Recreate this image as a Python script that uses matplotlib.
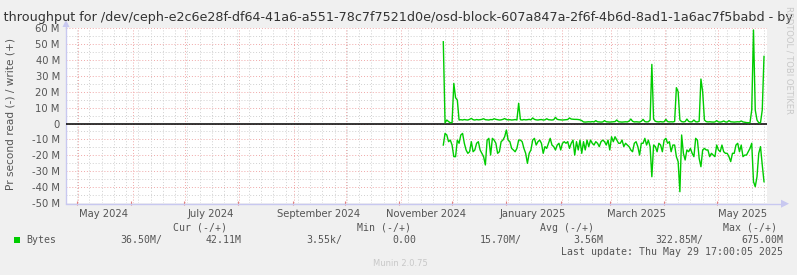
import matplotlib
matplotlib.use("Agg")
import matplotlib.pyplot as plt
import matplotlib.dates as mdates
from matplotlib.lines import Line2D
from matplotlib.patches import Polygon, Rectangle
import numpy as np
import pandas as pd

# ---------------- data ----------------
title = ("Disk throughput for /dev/ceph-e2c6e28f-df64-41a6-a551-78c7f7521d0e/"
         "osd-block-607a847a-2f6f-4b6d-8ad1-1a6ac7f5babd - by year")
ylabel = "Pr second read (-) / write (+)"
x_start = "2024-04-24 17:00"
x_end = "2025-05-29 17:00"
data_start = "2024-11-26"

# write (+) in MB/s, daily
write_mb = [51.3, 0.4, 2.2, 1.2, 0.5, 0.5, 25.2, 16.2, 14.7, 2.2,
            2.4, 2.2, 2.5, 2.3, 2.2, 2.6, 3.2, 2.4, 2.2, 2.5,
            2.3, 2.4, 2.6, 3.0, 2.4, 2.3, 2.2, 2.5, 2.4, 3.0,
            2.6, 2.4, 2.2, 2.3, 2.6, 3.1, 2.5, 2.3, 2.4, 2.2,
            2.3, 2.5, 2.2, 12.7, 2.4, 2.2, 2.5, 2.3, 2.4, 2.6,
            2.3, 3.5, 2.6, 2.3, 2.2, 2.4, 2.5, 2.2, 2.3, 3.0,
            2.4, 2.3, 2.2, 2.4, 3.9, 2.6, 2.4, 2.3, 2.2, 2.3,
            2.4, 2.5, 3.5, 2.8, 2.7, 2.6, 2.6, 2.5, 2.3, 1.8,
            1.0, 0.9, 1.0, 1.1, 1.0, 1.2, 1.0, 1.8, 1.1, 1.0,
            0.9, 1.0, 1.8, 1.1, 1.0, 0.9, 1.0, 1.1, 1.2, 2.2,
            1.1, 1.0, 0.9, 1.0, 1.1, 1.0, 1.5, 2.8, 1.4, 1.0,
            1.1, 1.0, 0.9, 1.4, 2.6, 1.2, 1.0, 1.1, 2.2, 37.1,
            2.8, 1.4, 1.1, 1.0, 1.2, 1.0, 1.1, 2.6, 1.2, 1.0,
            1.1, 1.0, 1.3, 22.5, 20.0, 2.2, 1.2, 1.0, 1.2, 2.8,
            1.3, 1.0, 1.1, 2.2, 1.1, 1.0, 1.4, 27.9, 20.0, 2.2,
            1.2, 1.0, 1.1, 1.0, 0.9, 1.0, 1.8, 1.0, 0.9, 1.1,
            1.6, 1.0, 0.9, 1.8, 1.1, 1.0, 0.9, 1.0, 1.1, 1.0,
            1.6, 1.0, 0.8, 0.6, 0.5, 0.5, 8.5, 58.7, 8.5, 2.2,
            0.5, 0.5, 8.5, 42.11]

# read (-) in MB/s, daily (plotted as negative)
read_mb = [13.5, 6.2, 7.2, 11.4, 10.4, 13.5, 20.8, 20.8, 10.4, 12.4,
           7.2, 6.2, 12.4, 16.6, 18.7, 17.7, 11.4, 17.7, 16.6, 12.4,
           11.4, 16.6, 18.7, 20.8, 26.0, 10.4, 9.3, 19.8, 9.3, 10.4,
           12.4, 18.7, 17.7, 11.4, 10.4, 8.3, 4.1, 10.4, 11.4, 15.6,
           16.6, 17.7, 15.6, 10.4, 10.4, 11.4, 15.6, 18.7, 25.0, 18.7,
           16.6, 10.4, 9.3, 13.5, 11.4, 10.4, 12.4, 18.7, 14.5, 15.6,
           12.4, 9.3, 13.5, 14.5, 16.6, 13.5, 12.4, 16.6, 12.4, 11.4,
           12.4, 11.4, 15.6, 12.4, 10.4, 19.8, 11.4, 16.6, 10.4, 18.7,
           11.4, 16.6, 10.4, 14.5, 10.4, 12.4, 13.5, 11.4, 12.4, 14.5,
           11.4, 10.4, 11.4, 13.5, 10.4, 16.6, 8.3, 11.4, 8.3, 10.4,
           12.4, 12.4, 10.4, 14.5, 12.4, 13.5, 14.5, 16.6, 17.7, 12.4,
           11.4, 14.5, 19.8, 12.4, 12.4, 9.3, 13.5, 10.4, 14.5, 33.4,
           13.5, 14.5, 17.7, 12.4, 13.5, 17.7, 10.4, 9.3, 12.4, 11.4,
           17.7, 13.5, 13.5, 20.8, 23.9, 42.8, 7.2, 18.7, 22.9, 16.6,
           17.7, 15.6, 18.7, 20.8, 9.3, 10.4, 21.9, 27.1, 16.6, 15.6,
           16.6, 16.6, 20.8, 18.7, 19.8, 20.8, 13.5, 16.6, 17.7, 13.5,
           17.7, 18.7, 18.7, 20.8, 23.9, 18.7, 18.7, 13.5, 12.4, 17.7,
           13.5, 20.8, 19.8, 19.8, 17.7, 15.6, 12.4, 36.5, 39.6, 33.4,
           18.7, 14.5, 26.0, 36.5]

y_ticks = [-50, -40, -30, -20, -10, 0, 10, 20, 30, 40, 50, 60]

legend_headers = ["Cur (-/+)", "Min (-/+)", "Avg (-/+)", "Max (-/+)"]
legend_series = "Bytes"
legend_values = ["36.50M/", "42.11M", "3.55k/", "0.00",
                 "15.70M/", "3.56M", "322.85M/", "675.00M"]
last_update = "Last update: Thu May 29 17:00:05 2025"
munin_version = "Munin 2.0.75"
rrd_credit = "RRDTOOL / TOBI OETIKER"

# ---------------- figure ----------------
W, H = 797, 275
fig = plt.figure(figsize=(W / 100, H / 100), dpi=100, facecolor="#F0F0F0")

def fx(x):
    return x / W

def fy(y):
    return 1 - y / H

ax_l, ax_r, ax_t, ax_b = 66, 767, 27.9, 203.2
ax = fig.add_axes([fx(ax_l), fy(ax_b), (ax_r - ax_l) / W, (ax_b - ax_t) / H])
ax.set_facecolor("white")

xs = pd.Timestamp(x_start)
xe = pd.Timestamp(x_end)
ax.set_xlim(xs, xe)
ax.set_ylim(-50, 60)

GREEN = "#00CC00"
MINOR_C = "#D0D0D0"
MAJOR_C = "#F0A8A8"

# grid: horizontal
for v in np.arange(-50, 61, 5):
    c = MAJOR_C if v % 10 == 0 else MINOR_C
    ax.axhline(v, color=c, lw=0.7, ls=(0, (1, 2)), zorder=1)
# grid: vertical weekly + monthly
weeks = pd.date_range(xs, xe, freq="W-WED").normalize()
months = pd.date_range(xs, xe, freq="MS")
for d in weeks:
    if d not in months:
        ax.axvline(d, color=MINOR_C, lw=0.7, ls=(0, (1, 2)), zorder=1)
for d in months:
    ax.axvline(d, color=MAJOR_C, lw=0.7, ls=(0, (1, 2)), zorder=1)

# zero line
ax.axhline(0, color="black", lw=1.1, zorder=3)

# data
dates = pd.date_range(data_start, periods=len(write_mb), freq="D")
ax.plot(dates, write_mb, color=GREEN, lw=1.0, zorder=4)
ax.plot(dates, -np.array(read_mb), color=GREEN, lw=1.0, zorder=4)

# axes styling
for s in ["top", "right"]:
    ax.spines[s].set_visible(False)
ax.spines["left"].set_color("#C8C8F0")
ax.spines["bottom"].set_visible(False)
ax.spines["left"].set_linewidth(1.0)

ax.set_yticks(y_ticks)
ax.set_yticklabels([("%d M" % v) if v != 0 else "0" for v in y_ticks])
ax.tick_params(axis="y", length=0, pad=4.5, labelsize=7.2, labelcolor="#555555")

ax.xaxis.set_major_locator(mdates.MonthLocator(bymonth=[1, 3, 5, 7, 9, 11], bymonthday=16))
ax.xaxis.set_major_formatter(mdates.DateFormatter("%B %Y"))
ax.xaxis.set_minor_locator(mdates.MonthLocator())
ax.tick_params(axis="x", which="major", length=0, pad=4.0, labelsize=7.2, labelcolor="#555555")
ax.tick_params(axis="x", which="minor", length=2.5, color="#E08080", direction="inout", width=0.8)

# bottom axis line with arrow (extends past the plot)
fig.add_artist(Line2D([fx(ax_l), fx(784)], [fy(ax_b + 0.5), fy(ax_b + 0.5)],
                      color="#C8C8F0", lw=1.0))
fig.add_artist(Polygon([[fx(781), fy(ax_b - 3.5)], [fx(789), fy(ax_b + 0.5)],
                        [fx(781), fy(ax_b + 4.5)]], closed=True,
                       facecolor="#C8C8F0", edgecolor="none"))
# left axis arrow
fig.add_artist(Line2D([fx(ax_l), fx(ax_l)], [fy(ax_t), fy(23)], color="#C8C8F0", lw=1.0))
fig.add_artist(Polygon([[fx(ax_l - 3.5), fy(27)], [fx(ax_l), fy(20)],
                        [fx(ax_l + 3.5), fy(27)]], closed=True,
                       facecolor="#C8C8F0", edgecolor="none"))

# title
fig.text(0.5, fy(17.5), title, ha="center", va="center", fontsize=9.2, color="#333333")
# y label
fig.text(fx(11), fy(114), ylabel, rotation=90, ha="center", va="center",
         fontsize=7.6, color="#555555")

# legend
MONO = "DejaVu Sans Mono"
LF = 7.15
TC = "#555555"
hdr_x = [173, 357, 540, 723]
for h, x in zip(legend_headers, hdr_x):
    fig.text(fx(x), fy(228), h, ha="left", va="center", family=MONO, fontsize=LF, color=TC)
fig.add_artist(Rectangle((fx(14), fy(243)), 6 / W, 6 / H, facecolor=GREEN,
                         edgecolor="none"))
fig.text(fx(26.5), fy(240), legend_series, ha="left", va="center", family=MONO,
         fontsize=LF, color=TC)
val_right = [162, 242, 342, 416, 522, 603, 703, 783]
for v, x in zip(legend_values, val_right):
    fig.text(fx(x), fy(240), v, ha="right", va="center", family=MONO, fontsize=LF, color=TC)
fig.text(fx(783), fy(252), last_update, ha="right", va="center", family=MONO,
         fontsize=LF, color=TC)
fig.text(fx(373), fy(264), munin_version, ha="left", va="center", fontsize=6.0,
         color="#C8C8C8")
fig.text(fx(789), fy(6), rrd_credit, rotation=270, ha="center", va="top",
         fontsize=6.0, color="#C8C8C8")

fig.savefig("out.png", dpi=100, facecolor=fig.get_facecolor())
